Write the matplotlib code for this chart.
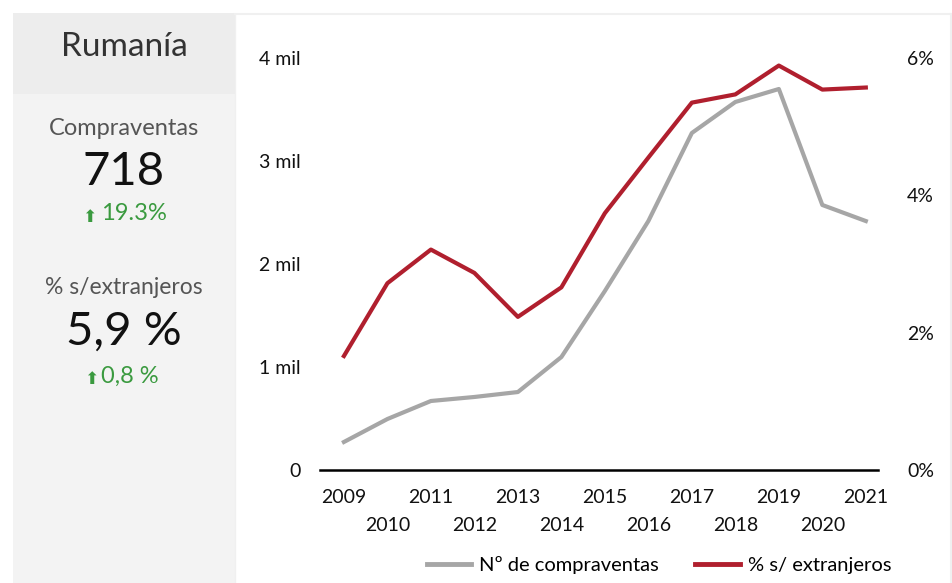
import matplotlib.pyplot as plt
import matplotlib.patches as mpatches
from matplotlib.lines import Line2D

plt.rcParams['font.family'] = ['Lato', 'DejaVu Sans']

# data
years = list(range(2009, 2022))
compraventas = [272, 495, 670, 709, 757, 1097, 1738, 2417, 3272, 3573, 3699, 2573, 2417]
pct_extranjeros = [1.66, 2.72, 3.21, 2.87, 2.23, 2.66, 3.74, 4.55, 5.35, 5.47, 5.89, 5.54, 5.57]
left_ticks = [0, 1000, 2000, 3000, 4000]
left_labels = ['0', '1 mil', '2 mil', '3 mil', '4 mil']
right_ticks = [0, 2, 4, 6]
right_labels = ['0%', '2%', '4%', '6%']

gray = '#a6a6a6'
red = '#b01f2e'
green = '#3a9a3f'

W, H = 952, 583
fig = plt.figure(figsize=(W / 100, H / 100), dpi=100)

def fx(px):
    return px / W

def fy(py):
    return 1 - py / H

# left summary panel
fig.patches.append(mpatches.Rectangle((fx(13), 0), fx(222), fy(13), transform=fig.transFigure,
                                      facecolor='#f3f3f3', edgecolor='none', zorder=0))
fig.patches.append(mpatches.Rectangle((fx(13), fy(94)), fx(222), fy(13) - fy(94), transform=fig.transFigure,
                                      facecolor='#ededed', edgecolor='none', zorder=0))
# thin frame around the chart area
fig.add_artist(Line2D([fx(235), fx(951)], [fy(14), fy(14)], color='#f0f0f0', lw=1.5))
fig.add_artist(Line2D([fx(951), fx(951)], [fy(14), 0], color='#f0f0f0', lw=1.5))
fig.add_artist(Line2D([fx(235), fx(235)], [fy(14), 0], color='#f0f0f0', lw=1))

fig.text(fx(124), fy(47), 'Rumanía', ha='center', va='center', fontsize=24, color='#333333')
fig.text(fx(124), fy(128), 'Compraventas', ha='center', va='center', fontsize=17, color='#555555')
fig.text(fx(124), fy(172), '718', ha='center', va='center', fontsize=34, color='#111111')
fig.text(fx(89), fy(217), '⬆', ha='center', va='center', fontsize=12.5, color=green, family='DejaVu Sans')
fig.text(fx(101), fy(214), '19.3%', ha='left', va='center', fontsize=17, color=green)
fig.text(fx(124), fy(287), '% s/extranjeros', ha='center', va='center', fontsize=16.5, color='#555555')
fig.text(fx(124), fy(332), '5,9 %', ha='center', va='center', fontsize=34, color='#111111')
fig.text(fx(91), fy(379), '⬆', ha='center', va='center', fontsize=12.5, color=green, family='DejaVu Sans')
fig.text(fx(101), fy(376), '0,8 %', ha='left', va='center', fontsize=17, color=green)

# chart
ax = fig.add_axes([fx(320), fy(470), fx(558), fy(58) - fy(470)])
ax.set_facecolor('none')
ax.plot(years, compraventas, color=gray, lw=3, clip_on=False, label='Nº de compraventas')
ax.set_xlim(2008.45, 2021.28)
ax.set_ylim(0, 4000)
ax.set_yticks(left_ticks)
ax.set_yticklabels(left_labels)
ax.tick_params(axis='y', length=0, pad=14, labelsize=14, labelcolor='#111111')

ax.set_xticks(years[::2])
ax.set_xticklabels([str(y) for y in years[::2]])
ax.set_xticks(years[1::2], minor=True)
ax.set_xticklabels([str(y) for y in years[1::2]], minor=True)
ax.tick_params(axis='x', which='major', length=0, pad=14, labelsize=14, labelcolor='#111111')
ax.tick_params(axis='x', which='minor', length=0, pad=33.5, labelsize=14, labelcolor='#111111')

for s in ['top', 'left', 'right']:
    ax.spines[s].set_visible(False)
ax.spines['bottom'].set_color('black')
ax.spines['bottom'].set_linewidth(1.8)

ax2 = ax.twinx()
ax2.plot(years, pct_extranjeros, color=red, lw=3, clip_on=False, label='% s/ extranjeros')
ax2.set_ylim(0, 6)
ax2.set_yticks(right_ticks)
ax2.set_yticklabels(right_labels)
ax2.tick_params(axis='y', length=0, pad=21, labelsize=14, labelcolor='#111111')
for s in ['top', 'left', 'right', 'bottom']:
    ax2.spines[s].set_visible(False)

handles = [Line2D([], [], color=gray, lw=3.5), Line2D([], [], color=red, lw=3.5)]
fig.legend(handles, ['Nº de compraventas', '% s/ extranjeros'], loc='center',
           bbox_to_anchor=(fx(659), fy(565)), ncol=2, frameon=False, fontsize=14.5,
           handlelength=2.2, handletextpad=0.4, columnspacing=1.8)

fig.savefig('out.png', dpi=100)
